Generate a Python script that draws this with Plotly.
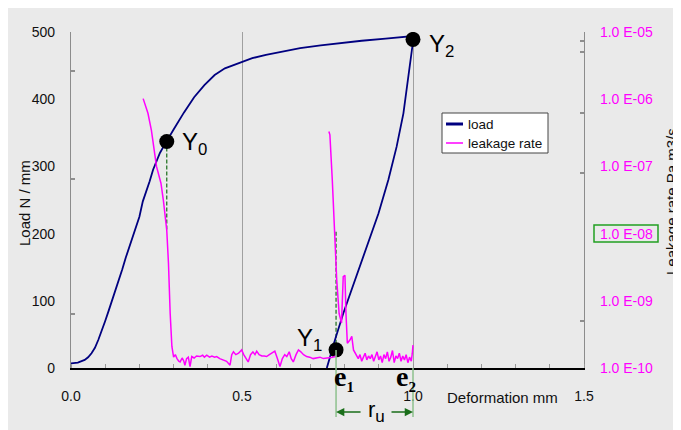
import plotly.graph_objects as go

# ---------------- data ----------------
load_x = [0.0, 0.02, 0.04, 0.05, 0.06, 0.07, 0.08, 0.09, 0.10, 0.11, 0.12, 0.13, 0.14,
          0.15, 0.16, 0.17, 0.18, 0.19, 0.20, 0.21, 0.22, 0.23, 0.24, 0.25, 0.26, 0.27,
          0.28, 0.30, 0.33, 0.36, 0.39, 0.42, 0.45, 0.49, 0.53, 0.57, 0.62, 0.67, 0.73,
          0.79, 0.85, 0.92, 0.98, 1.0,
          0.998, 0.986, 0.972, 0.952, 0.928, 0.899, 0.865, 0.830, 0.796, 0.772, 0.748]
load_y = [7, 8, 12, 16, 22, 30, 42, 55, 70, 85, 100, 116, 131,
          147, 164, 180, 195, 209, 225, 248, 262, 278, 295, 309, 320, 329,
          338, 355, 380, 403, 421, 436, 446, 454, 461, 466, 471, 476, 480,
          484, 487, 490, 493, 494,
          478, 429, 379, 329, 280, 230, 180, 131, 81, 42, 0]

leak1_x = [0.211, 0.225, 0.235, 0.242, 0.25, 0.263, 0.27, 0.28, 0.285, 0.29, 0.295,
           0.30, 0.305, 0.31, 0.315, 0.319, 0.325, 0.33, 0.333, 0.338, 0.343, 0.348,
           0.353, 0.36, 0.367, 0.377, 0.385, 0.39, 0.397, 0.405, 0.412, 0.42, 0.426,
           0.435, 0.445, 0.455, 0.465, 0.47, 0.475, 0.482, 0.49, 0.499, 0.505, 0.512,
           0.518, 0.525, 0.532, 0.538, 0.543, 0.55, 0.558, 0.565, 0.572, 0.58, 0.588,
           0.596, 0.603, 0.611, 0.618, 0.625, 0.631, 0.638, 0.644, 0.65, 0.658, 0.665,
           0.672, 0.68, 0.689, 0.698, 0.708, 0.718, 0.728, 0.738, 0.748, 0.757, 0.765,
           0.775]
leak1_y = [1.02e-6, 6.17e-7, 3.47e-7, 1.95e-7, 1.0e-7, 5.62e-8, 3.16e-8, 1.12e-8, 3.63e-9,
           6.46e-10, 2.09e-10,
           1.45e-10, 1.58e-10, 1.38e-10, 1.26e-10, 1.23e-10, 1.41e-10, 1.26e-10, 1.10e-10,
           1.38e-10, 1.45e-10, 1.05e-10, 1.48e-10, 1.41e-10, 1.51e-10, 1.48e-10, 1.55e-10,
           1.45e-10, 1.55e-10, 1.45e-10, 1.51e-10, 1.45e-10, 1.48e-10, 1.38e-10, 1.32e-10,
           1.26e-10, 1.10e-10, 1.58e-10, 1.74e-10, 1.58e-10, 1.66e-10, 1.86e-10, 1.58e-10,
           1.38e-10, 1.23e-10, 1.58e-10, 1.74e-10, 1.58e-10, 1.78e-10, 1.58e-10, 1.51e-10,
           1.51e-10, 1.48e-10, 1.58e-10, 1.70e-10, 1.78e-10, 1.41e-10, 1.05e-10, 1.38e-10,
           1.58e-10, 1.48e-10, 1.74e-10, 1.38e-10, 1.23e-10, 1.58e-10, 1.86e-10, 1.74e-10,
           1.58e-10, 1.48e-10, 1.45e-10, 1.38e-10, 1.41e-10, 1.45e-10, 1.38e-10, 1.41e-10,
           1.41e-10, 1.45e-10, 1.51e-10]

leak2_x = [0.754, 0.757, 0.764, 0.770, 0.777, 0.784, 0.791, 0.796, 0.801, 0.804, 0.808,
           0.816, 0.821, 0.826, 0.836, 0.84, 0.845, 0.85, 0.855, 0.86, 0.865, 0.87, 0.875,
           0.88, 0.885, 0.89, 0.895, 0.90, 0.905, 0.91, 0.915, 0.92, 0.925, 0.93, 0.935,
           0.94, 0.945, 0.95, 0.955, 0.96, 0.965, 0.97, 0.975, 0.98, 0.985, 0.99, 0.995,
           0.998, 1.0]
leak2_y = [3.31e-7, 2.95e-7, 6.31e-8, 1.12e-8, 2.04e-9, 6.46e-10, 4.68e-10, 2.29e-9, 2.40e-9,
           6.46e-10, 2.34e-10, 2.63e-10, 2.95e-10, 1.86e-10, 1.55e-10, 1.38e-10, 1.58e-10,
           1.26e-10, 1.45e-10, 1.66e-10, 1.32e-10, 1.51e-10, 1.38e-10, 1.58e-10, 1.26e-10,
           1.45e-10, 1.74e-10, 1.32e-10, 1.51e-10, 1.20e-10, 1.58e-10, 1.38e-10, 1.74e-10,
           1.26e-10, 1.45e-10, 1.82e-10, 1.20e-10, 1.51e-10, 1.38e-10, 1.66e-10, 1.26e-10,
           1.51e-10, 1.32e-10, 1.58e-10, 1.20e-10, 1.45e-10, 1.26e-10, 1.66e-10, 2.19e-10]

# characteristic points Y0, Y1, Y2
pt_names = ["Y<sub>0</sub>", "Y<sub>1</sub>", "Y<sub>2</sub>"]
pt_x = [0.28, 0.775, 1.0]
pt_y = [337, 27, 489]

# axis ticks
x_ticks = [0.0, 0.5, 1.0, 1.5]
x_ticktext = ["0.0", "0.5", "1.0", "1.5"]
load_ticks = [0, 100, 200, 300, 400, 500]
leak_ticks = [1e-10, 1e-9, 1e-8, 1e-7, 1e-6, 1e-5]
leak_ticktext = ["1.0 E-10", "1.0 E-09", "1.0 E-08", "1.0 E-07", "1.0 E-06", "1.0 E-05"]

e1_x, e2_x = 0.775, 1.0
dash_top = 203  # load level where the dashed guides end

# ---------------- figure ----------------
FONT = "Liberation Sans, Arial, sans-serif"
SERIF = "Liberation Serif, Times New Roman, serif"
BG = "#EAEAEA"
NAVY = "#000080"
MAG = "#FF00FF"
DKGREEN = "#1A6E1A"
LTGREEN = "#8DC08D"

fig = go.Figure()
fig.add_trace(go.Scatter(x=load_x, y=load_y, mode="lines", name="load",
                         line=dict(color=NAVY, width=1.8), showlegend=False))
fig.add_trace(go.Scatter(x=leak1_x + [None] + leak2_x, y=leak1_y + [None] + leak2_y,
                         mode="lines", name="leakage rate", yaxis="y2",
                         line=dict(color=MAG, width=1.5), connectgaps=False,
                         showlegend=False))
fig.add_trace(go.Scatter(x=pt_x, y=pt_y, mode="markers",
                         marker=dict(color="black", size=15), showlegend=False))

# page body margin of 8px places the figure at (8, 8)
W, H = 673, 422
ML, MR, MT, MB = 63, 97, 24, 62
PW, PH = W - ML - MR, H - MT - MB
OFF = 8


def pxx(p):  # page pixel x -> paper
    return (p - OFF - ML) / PW


def pxy(p):  # page pixel y -> paper
    return (H - MB - (p - OFF)) / PH


def dx(v):  # data x -> paper
    return (v - x_ticks[0]) / (x_ticks[-1] - x_ticks[0])


shapes = []
# dashed guides
for i in (0, 1):
    shapes.append(dict(type="line", xref="x", yref="y", x0=pt_x[i], x1=pt_x[i],
                       y0=pt_y[i], y1=dash_top,
                       line=dict(color=DKGREEN, width=1.2, dash="4px,2px"),
                       layer="below"))
# extension lines for r_u
shapes.append(dict(type="line", xref="paper", yref="paper", x0=dx(e1_x), x1=dx(e1_x),
                   y0=pxy(350), y1=pxy(417), line=dict(color=LTGREEN, width=1.5)))
shapes.append(dict(type="line", xref="paper", yref="paper", x0=dx(e2_x), x1=dx(e2_x),
                   y0=pxy(368), y1=pxy(417), line=dict(color=LTGREEN, width=1.5)))
# box around 1.0 E-08
shapes.append(dict(type="rect", xref="paper", yref="paper", x0=pxx(594), x1=pxx(658),
                   y0=pxy(242), y1=pxy(225), line=dict(color="#22A022", width=1.5)))
# small stray tick marks on the two vertical axes (as in the original figure)
for py in (71, 179, 314):
    shapes.append(dict(type="line", xref="paper", yref="paper", x0=0, x1=pxx(75),
                       y0=pxy(py), y1=pxy(py), line=dict(color="#333", width=1)))
for py in (41, 52, 113, 173, 321):
    shapes.append(dict(type="line", xref="paper", yref="paper", x0=pxx(580), x1=1,
                       y0=pxy(py), y1=pxy(py), line=dict(color="#333", width=1)))
# manual legend
shapes.append(dict(type="rect", xref="paper", yref="paper", x0=pxx(442), x1=pxx(548),
                   y0=pxy(153), y1=pxy(113), fillcolor="white",
                   line=dict(color="#444444", width=1)))
shapes.append(dict(type="line", xref="paper", yref="paper", x0=pxx(446), x1=pxx(463),
                   y0=pxy(124), y1=pxy(124), line=dict(color=NAVY, width=3)))
shapes.append(dict(type="line", xref="paper", yref="paper", x0=pxx(446), x1=pxx(463),
                   y0=pxy(143), y1=pxy(143), line=dict(color=MAG, width=1.5)))

ann = []


def txt(text, x, y, size, xanchor="center", yanchor="middle", **kw):
    d = dict(text=text, x=x, y=y, xref=kw.pop("xref", "paper"), yref=kw.pop("yref", "paper"),
             xanchor=xanchor, yanchor=yanchor, showarrow=False,
             font=dict(size=size, color=kw.pop("color", "#111"),
                       family=kw.pop("family", FONT)))
    d.update(kw)
    ann.append(d)


# axis titles
txt("Load N / mm", pxx(24), pxy(203), 15, textangle=-90)
txt("Leakage rate Pa m3/s", pxx(671), pxy(202), 15, textangle=-90)
txt("Deformation mm", pxx(502), pxy(398), 15)
# legend texts
txt("load", pxx(466), pxy(124), 13.5, xanchor="left")
txt("leakage rate", pxx(466), pxy(143), 13.5, xanchor="left")
# point labels
txt(pt_names[0], pt_x[0], pt_y[0], 24, xanchor="left", xref="x", yref="y",
    xshift=13, yshift=-2, color="black")
txt(pt_names[1], pt_x[1], pt_y[1], 24, xanchor="right", xref="x", yref="y",
    xshift=-12, yshift=10, color="black")
txt(pt_names[2], pt_x[2], pt_y[2], 24, xanchor="left", xref="x", yref="y",
    xshift=14, yshift=-6, color="black")
# e1, e2
txt("<b>e<sub><span style='font-size:15px'>1</span></sub></b>", e1_x, pxy(378), 28,
    xref="x", xshift=8, family=SERIF, color="black")
txt("<b>e<sub><span style='font-size:15px'>2</span></sub></b>", e2_x, pxy(378), 28,
    xref="x", xshift=-7, family=SERIF, color="black")
# r_u label and dimension arrows
txt("r<sub><span style='font-size:17px'>u</span></sub>", dx((e1_x + e2_x) / 2), pxy(411),
    22, xshift=2, color="black")
ann.append(dict(text="", x=dx(e1_x), y=pxy(412), ax=26, ay=0,
                xref="paper", yref="paper", axref="pixel", ayref="pixel",
                showarrow=True, arrowhead=2, arrowsize=1.1, arrowwidth=1.5,
                arrowcolor=DKGREEN))
ann.append(dict(text="", x=dx(e2_x), y=pxy(412), ax=-23, ay=0,
                xref="paper", yref="paper", axref="pixel", ayref="pixel",
                showarrow=True, arrowhead=2, arrowsize=1.1, arrowwidth=1.5,
                arrowcolor=DKGREEN))

fig.update_layout(
    width=W, height=H,
    margin=dict(l=ML, r=MR, t=MT, b=MB, pad=0),
    paper_bgcolor=BG, plot_bgcolor="rgba(0,0,0,0)",
    font=dict(family=FONT, size=14, color="#111"),
    showlegend=False,
    xaxis=dict(range=[x_ticks[0], x_ticks[-1]], tickvals=x_ticks, ticktext=x_ticktext,
               showline=True, linecolor="black", linewidth=1.5, zeroline=False,
               showgrid=True, gridcolor="#A0A0A0", gridwidth=1, ticks="",
               ticklabelstandoff=14, tickfont=dict(size=14, color="#111"),
               minor=dict(dtick=0.1, ticks="inside", ticklen=4, tickcolor="#999",
                          tickwidth=1, showgrid=False)),
    yaxis=dict(range=[0, 500], tickvals=load_ticks, showline=True, linecolor="#8C8C8C",
               linewidth=1.2, showgrid=False, zeroline=False, ticks="",
               ticklabelstandoff=12, tickfont=dict(size=14, color="#111")),
    yaxis2=dict(type="log", range=[-10, -5], overlaying="y", side="right", anchor="x",
                tickvals=leak_ticks, ticktext=leak_ticktext, showline=True,
                linecolor="#8C8C8C", linewidth=1.2, showgrid=False, zeroline=False,
                ticks="", ticklabelstandoff=12, tickfont=dict(size=14, color=MAG)),
    shapes=shapes,
    annotations=ann,
)

fig.write_html("out.html")
